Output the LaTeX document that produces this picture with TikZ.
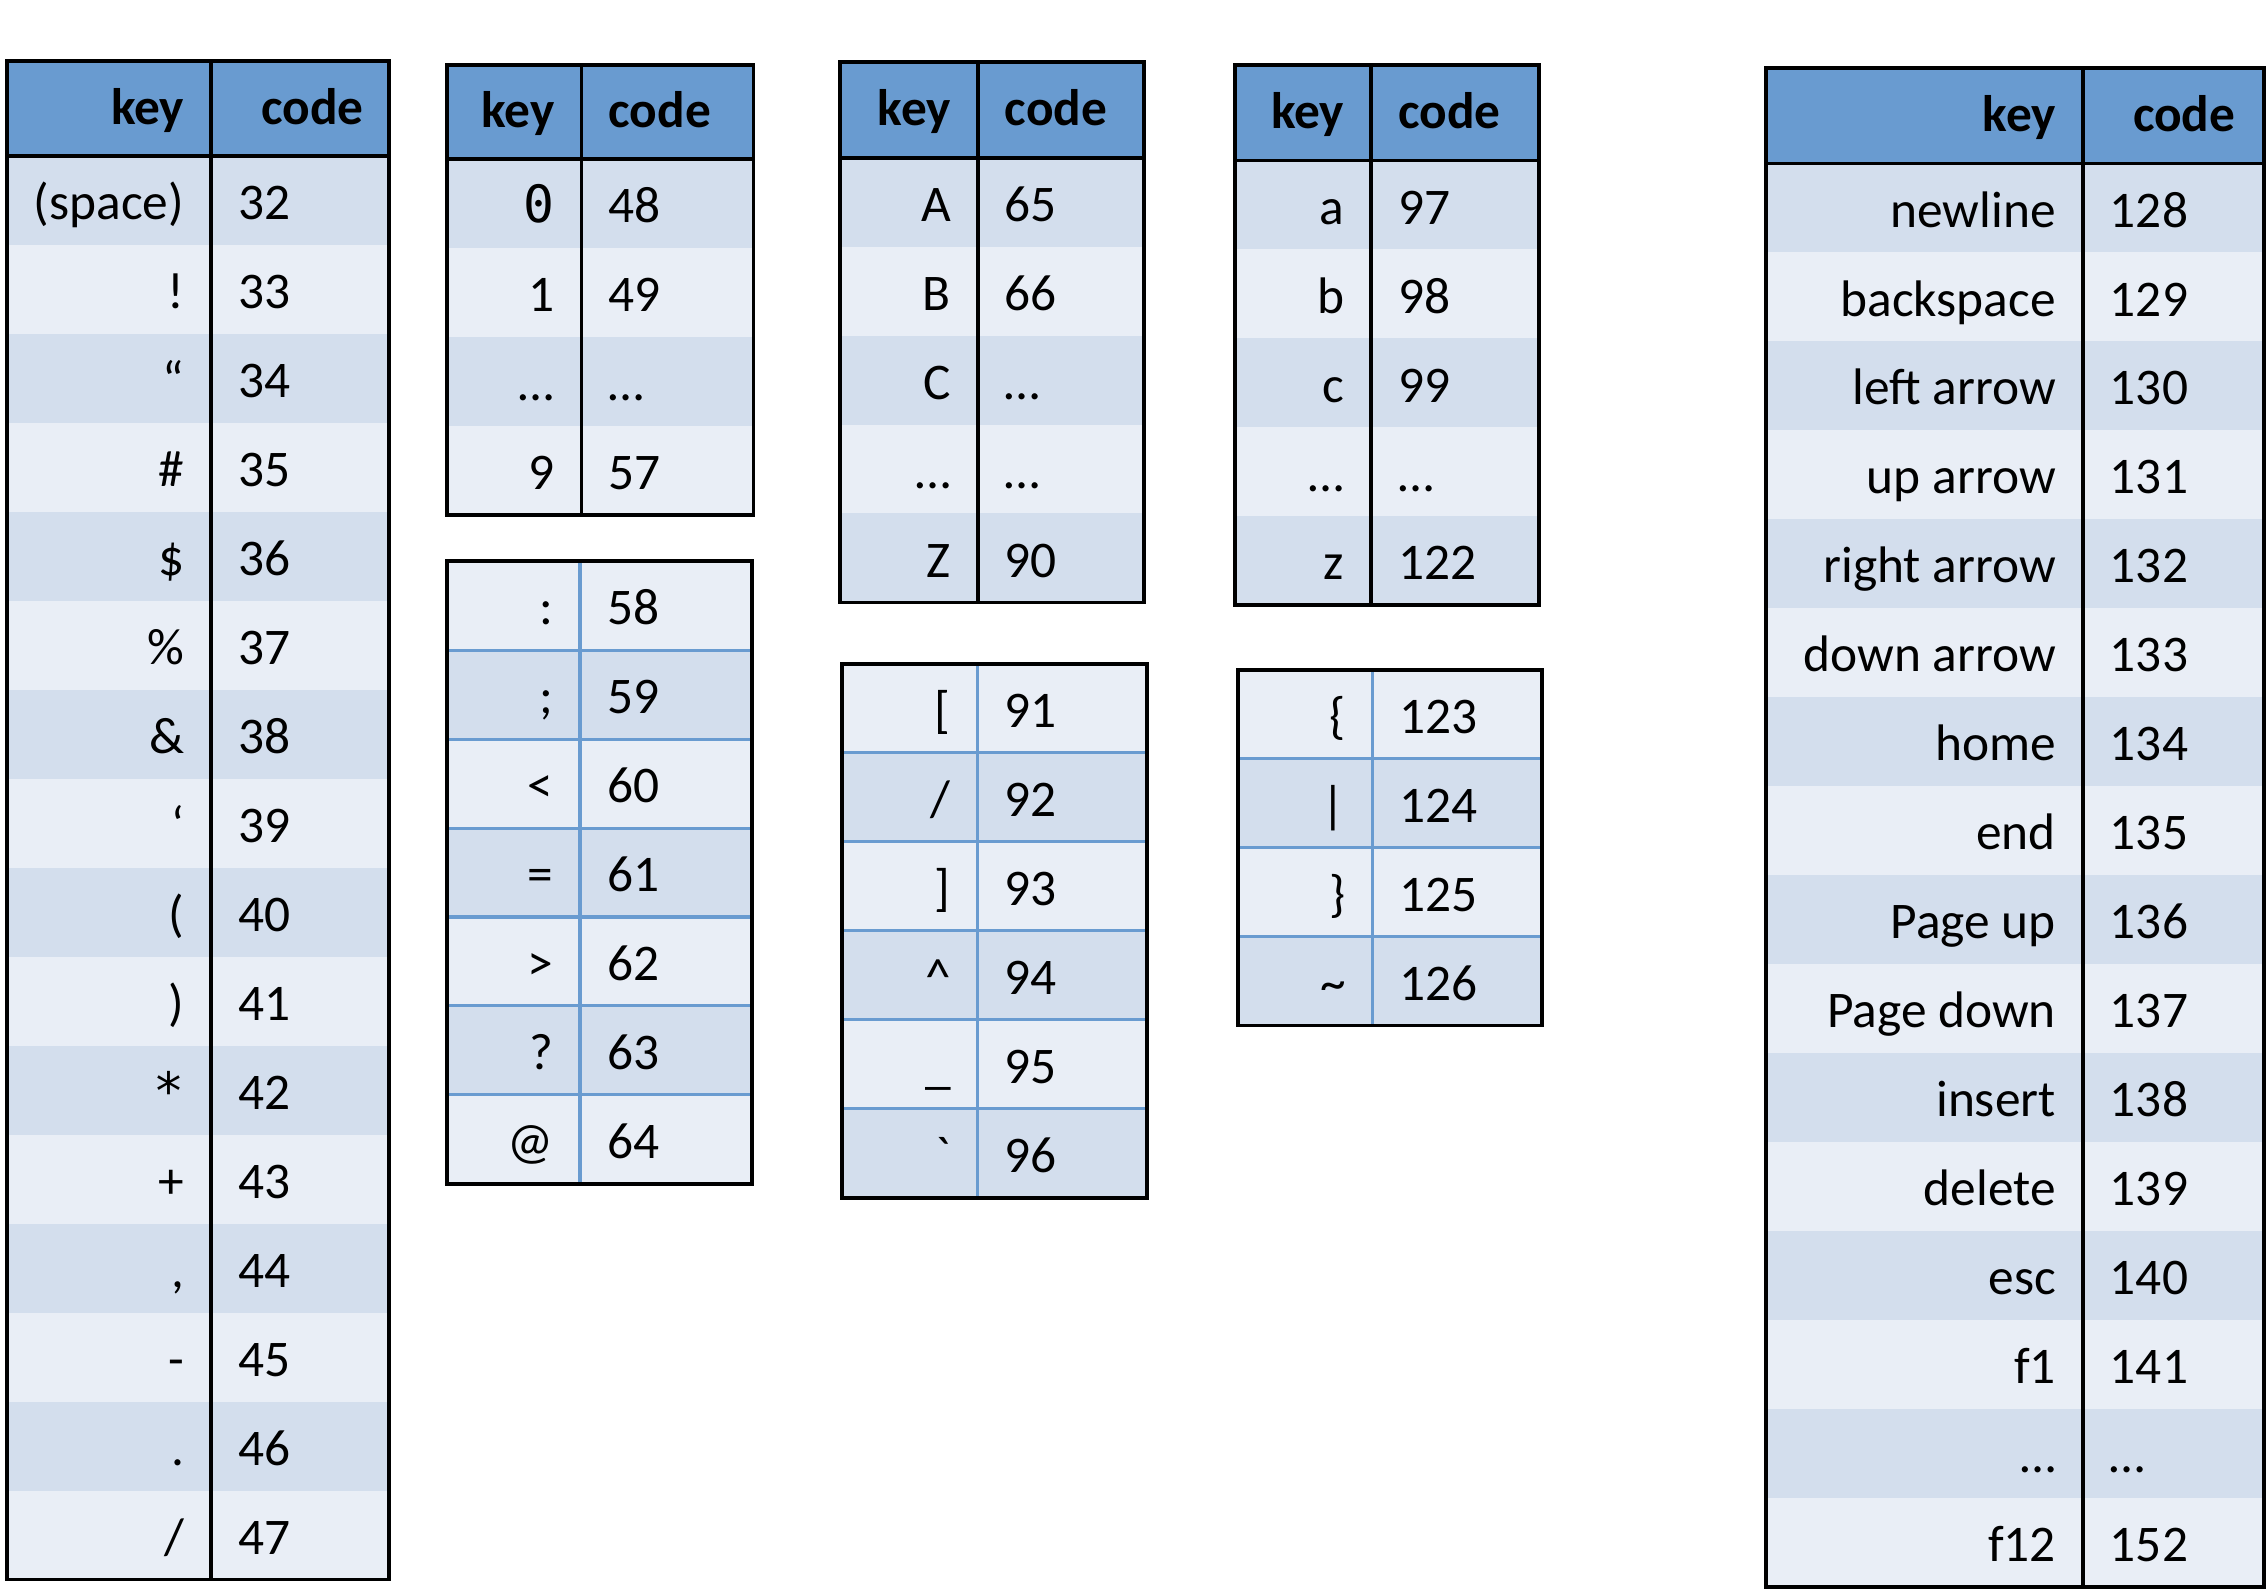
\documentclass[tikz,border=0pt]{standalone}
\usepackage{fontspec}
\setmainfont{Carlito}
\setmonofont{DejaVu Sans Mono}
\usetikzlibrary{positioning}
\definecolor{headblue}{RGB}{105,155,208}
\definecolor{rowdark}{RGB}{211,222,237}
\definecolor{rowlight}{RGB}{233,238,246}
\definecolor{ruleblue}{RGB}{105,155,208}
\newcommand\tabfont{\fontsize{10.1}{12}\selectfont}
\tikzset{
  keytext/.style={anchor=base east, inner sep=0pt, font=\tabfont},
  codetext/.style={anchor=base west, inner sep=0pt, font=\tabfont},
  headtext/.style={inner sep=0pt, font=\tabfont\bfseries},
  tabrule/.style={draw=black, line width=0.75pt},
  rowrule/.style={draw=ruleblue, line width=0.6pt},
  code table/.pic={
    \tikzset{/codetable/.cd, #1}
    \pgfmathsetmacro\tabH{\tabhead+61.5*\tabrows}
    \foreach \k/\c [count=\i] in \tabdata {
      \pgfmathtruncatemacro\odd{mod(\i+\tabstart,2)}
      \ifnum\odd=1 \def\rowcol{rowdark}\else\def\rowcol{rowlight}\fi
      \fill[\rowcol] (0,\tabhead+61.5*\i-61.5) rectangle (\tabw,\tabhead+61.5*\i);
      \node[keytext] (-k\i) at (\tabdiv-18,\tabhead+61.5*\i-17.5) {\k};
      \node[codetext] (-c\i) at (\tabdiv+18,\tabhead+61.5*\i-17.5) {\c};
    }
    \ifdim\tabhead pt>0pt
      \fill[headblue] (0,0) rectangle (\tabw,\tabhead);
      \node[headtext, anchor=base east] (-key) at (\tabdiv-18,\tabhead/2+11) {key};
      \node[headtext, anchor=base west] (-code) at (\tabdiv+\tabcodepad,\tabhead/2+11) {code};
      \draw[tabrule] (0,\tabhead) -- (\tabw,\tabhead) (\tabdiv,0) -- (\tabdiv,\tabH);
    \else
      \pgfmathtruncatemacro\lastrow{\tabrows-1}
      \foreach \i in {1,...,\lastrow}
        \draw[rowrule] (0,61.5*\i) -- (\tabw,61.5*\i);
      \draw[rowrule] (\tabdiv,0) -- (\tabdiv,\tabH);
    \fi
    \draw[tabrule] (0,0) rectangle (\tabw,\tabH);
  },
  /codetable/.search also={/tikz},
  /codetable/.cd,
  width/.store in=\tabw,
  div/.store in=\tabdiv,
  head/.store in=\tabhead,
  rows/.store in=\tabrows,
  start/.store in=\tabstart,
  codepad/.store in=\tabcodepad,
  data/.store in=\tabdata,
  width=210,
  div=94,
  head=66,
  rows=4,
  start=0,
  codepad=18,
}

\begin{document}
\begin{tikzpicture}[x=0.01cm, y=-0.01cm]
	\useasboundingbox (0,0) rectangle (1568,1103.4);

	\pic (t1) at (5,42) {code table={width=264, div=141, head=66, rows=16, start=0, codepad=34,
		data={{(space)}/32, !/33, “/34, \#/35, \$/36, \%/37, \&/38, ‘/39, {(}/40, {)}/41,
			{\texttt{*}}/42, +/43, {,}/44, -/45, {.}/46, {/}/47}}};
	\pic (t2) at (309,45) {code table={width=212, div=93, head=65, rows=4, start=0,
		data={{\texttt{0}}/48, 1/49, …/…, 9/57}}};
	\pic (t2b) at (309,388) {code table={width=211, div=92, head=0, rows=7, start=1,
		data={:/58, ;/59, </60, =/61, >/62, ?/63, @/64}}};
	\pic (t3) at (581,43) {code table={width=210, div=95, head=66, rows=5, start=0,
		data={A/65, B/66, C/…, …/…, Z/90}}};
	\pic (t3b) at (582,459) {code table={width=211, div=94, head=0, rows=6, start=1,
		data={{[}/91, {/}/92, {]}/93, \textasciicircum/94, \_/95, \textasciigrave/96}}};
	\pic (t4) at (854,45) {code table={width=210, div=94, head=66, rows=5, start=0,
		data={a/97, b/98, c/99, …/…, z/122}}};
	\pic (t4b) at (856,463) {code table={width=210, div=93, head=0, rows=4, start=1,
		data={\{/123, |/124, \}/125, \textasciitilde/126}}};
	\pic (t5) at (1221,47) {code table={width=344, div=219, head=66, rows=16, start=0, codepad=34,
		data={newline/128, backspace/129, left arrow/130, up arrow/131, right arrow/132,
			down arrow/133, home/134, end/135, Page up/136, Page down/137, insert/138,
			delete/139, esc/140, f1/141, …/…, f12/152}}};
\end{tikzpicture}
\end{document}
